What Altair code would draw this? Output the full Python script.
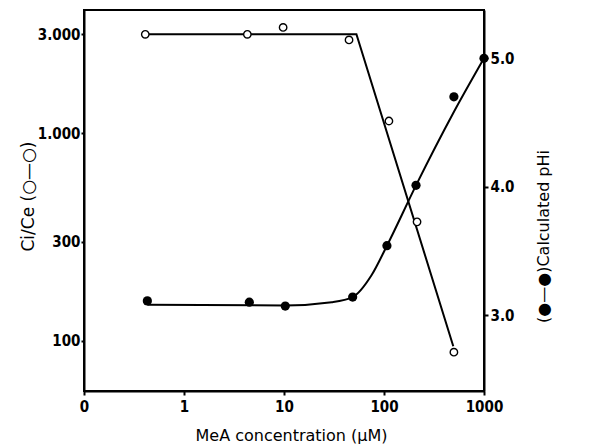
import altair as alt
import pandas as pd

# ---- data ----
conc_open = [0.41, 4.3, 9.8, 44.7, 112, 214, 500]
ratio_open = [3000, 3000, 3240, 2820, 1146, 374, 88]

conc_filled = [0.43, 4.5, 10.3, 48.6, 107, 209, 500, 1000]
phi_filled = [3.11, 3.10, 3.07, 3.14, 3.54, 4.01, 4.70, 5.0]

# hand-drawn fitted lines
fit_open_x = [0.41, 53, 493]
fit_open_y = [3000, 3000, 94]
fit_filled_x = [0.43, 10.3, 30, 48.6, 75, 107, 209, 490, 1000]
fit_filled_y = [3.08, 3.075, 3.10, 3.14, 3.31, 3.54, 4.01, 4.57, 5.0]

x_ticks = [0.1, 1, 10, 100, 1000]
x_tick_labels = ["0", "1", "10", "100", "1000"]
left_ticks = [100, 300, 1000, 3000]
left_tick_labels = ["100", "300", "1.000", "3.000"]
right_ticks = [3.0, 4.0, 5.0]

df_open = pd.DataFrame({"conc": conc_open, "val": ratio_open})
df_filled = pd.DataFrame({"conc": conc_filled, "val": phi_filled})
df_fit_open = pd.DataFrame({"conc": fit_open_x, "val": fit_open_y})
df_fit_filled = pd.DataFrame({"conc": fit_filled_x, "val": fit_filled_y})


def label_expr(vals, labels):
    parts = []
    for v, l in zip(vals, labels):
        parts.append(f"abs(datum.value - {v}) < {v}*0.01 ? '{l}' : ")
    return "".join(parts) + "''"


LABEL_FONT = "DejaVu Sans Condensed"
TITLE_FONT = "DejaVu Sans"

x_enc = alt.X(
    "conc:Q",
    scale=alt.Scale(type="log", domain=[0.1, 1000], nice=False),
    axis=alt.Axis(
        values=x_ticks,
        labelExpr=label_expr(x_ticks, x_tick_labels),
        title="MeA concentration (µM)",
        titleX=207, titleY=49, titleBaseline="alphabetic", titleAlign="center",
        tickSize=4, labelPadding=4, labelFlush=False, labelOverlap=False,
    ),
)

y_left = alt.Y(
    "val:Q",
    scale=alt.Scale(type="log", domain=[57.2, 3930], nice=False),
    axis=alt.Axis(
        orient="left",
        values=left_ticks,
        labelExpr=label_expr(left_ticks, left_tick_labels),
        title="Ci/Ce (○—○)",
        titleAngle=270, titleBaseline="alphabetic", titleAlign="center",
        titleX=-51, titleY=186, titleFontSize=17,
        tickSize=3, labelPadding=1, labelFlush=False, labelOverlap=False,
    ),
)

y_right = alt.Y(
    "val:Q",
    scale=alt.Scale(domain=[2.408, 5.376], nice=False, zero=False),
    axis=alt.Axis(
        orient="right",
        values=right_ticks,
        format=".1f",
        title="(●—●)Calculated pHi",
        titleAngle=270, titleBaseline="alphabetic", titleAlign="center",
        titleX=64, titleY=226, titleFontSize=16,
        tickSize=4, labelPadding=2, labelFlush=False, labelOverlap=False,
    ),
)

open_line = alt.Chart(df_fit_open).mark_line(color="black", strokeWidth=2).encode(
    x=x_enc, y=y_left
)
open_pts = alt.Chart(df_open).mark_point(
    shape="circle", filled=False, fill="white", fillOpacity=1,
    stroke="black", strokeWidth=1.4, size=55, opacity=1,
).encode(x=x_enc, y=y_left)

filled_line = alt.Chart(df_fit_filled).mark_line(
    color="black", strokeWidth=2, interpolate="monotone"
).encode(x=x_enc, y=y_right)
filled_pts = alt.Chart(df_filled).mark_point(
    shape="circle", filled=True, color="black", size=85, opacity=1,
).encode(x=x_enc, y=y_right)

left = alt.layer(open_line, open_pts)
right = alt.layer(filled_line, filled_pts)

chart = (
    alt.layer(left, right)
    .resolve_scale(y="independent")
    .properties(
        width=400,
        height=381,
        autosize=alt.AutoSizeParams(type="none"),
        padding={"left": 84, "top": 10, "right": 121, "bottom": 54},
        background="white",
    )
    .configure_view(stroke="black", strokeWidth=2)
    .configure_axis(
        grid=False,
        domainColor="black", domainWidth=2,
        tickColor="black", tickWidth=2,
        labelFont=LABEL_FONT, labelFontSize=15, labelFontWeight="bold", labelColor="black",
        titleFont=TITLE_FONT, titleFontSize=16, titleFontWeight="normal", titleColor="black",
    )
)

chart.save("out.html", embed_options={"renderer": "svg", "actions": False})
